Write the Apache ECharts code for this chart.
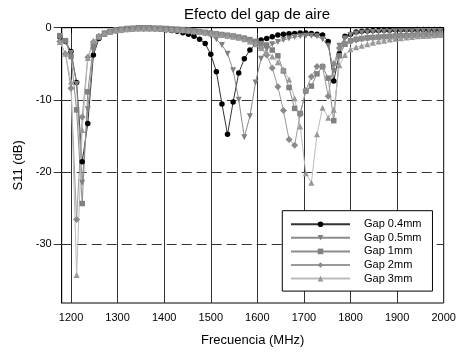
<!DOCTYPE html>
<html>
<head>
<meta charset="utf-8">
<script src="https://cdn.jsdelivr.net/npm/echarts@6/dist/echarts.min.js"></script>
<style>
  html, body { margin: 0; padding: 0; background: #fff; }
  #chart { width: 470px; height: 353px; }
</style>
</head>
<body>
<div id="chart"></div>
<script>
// frequency points (MHz)
const freq = [
  1176, 1188, 1200, 1212, 1224, 1236, 1248, 1260, 1272, 1284,
  1296, 1308, 1320, 1332, 1344, 1356, 1368, 1380, 1392, 1404,
  1416, 1428, 1440, 1452, 1464, 1476, 1488, 1500, 1512, 1524,
  1536, 1548, 1560, 1572, 1584, 1596, 1608, 1620, 1632, 1644,
  1656, 1668, 1680, 1692, 1704, 1716, 1728, 1740, 1752, 1764,
  1776, 1788, 1800, 1812, 1824, 1836, 1848, 1860, 1872, 1884,
  1896, 1908, 1920, 1932, 1944, 1956, 1968, 1980, 1992
]

// S11 (dB) per gap
const gap04 = [
  -1.3, -1.9, -3.3, -7.6, -18.6, -13.3, -3.8, -1.5, -0.9, -0.6,
  -0.4, -0.3, -0.2, -0.15, -0.1, -0.1, -0.1, -0.15, -0.2, -0.3,
  -0.4, -0.5, -0.7, -0.9, -1.2, -1.6, -2.2, -3.7, -6.1, -10.6,
  -14.8, -10.3, -6.3, -4.3, -3.1, -2.3, -1.7, -1.5, -1.25, -1.0,
  -0.9, -0.85, -0.8, -0.75, -0.75, -0.8, -0.9, -1.0, -1.9, -7.4,
  -3.6, -1.2, -0.9, -0.6, -0.5, -0.45, -0.4, -0.4, -0.35, -0.35,
  -0.3, -0.3, -0.3, -0.3, -0.25, -0.25, -0.25, -0.25, -0.25
]
const gap05 = [
  -1.4, -2.0, -3.5, -7.8, -21.5, -11.3, -3.2, -1.4, -0.8, -0.55,
  -0.35, -0.25, -0.15, -0.1, -0.05, -0.05, -0.05, -0.1, -0.1, -0.15,
  -0.2, -0.25, -0.3, -0.4, -0.5, -0.6, -0.8, -1.1, -1.6, -2.4,
  -3.6, -5.9, -10.0, -15.2, -12.3, -7.6, -4.3, -3.0, -2.3, -2.0,
  -1.7, -1.5, -1.3, -1.2, -1.1, -1.1, -1.2, -1.6, -2.5, -6.0,
  -2.5, -1.5, -1.0, -0.8, -0.7, -0.65, -0.6, -0.6, -0.55, -0.55,
  -0.5, -0.5, -0.5, -0.5, -0.45, -0.45, -0.45, -0.45, -0.45
]
const gap1 = [
  -1.1, -1.8, -4.0, -11.4, -24.4, -8.9, -2.5, -1.3, -0.8, -0.55,
  -0.4, -0.3, -0.2, -0.15, -0.1, -0.1, -0.1, -0.1, -0.15, -0.2,
  -0.25, -0.3, -0.35, -0.4, -0.5, -0.55, -0.65, -0.75, -0.85, -0.95,
  -1.05, -1.15, -1.3, -1.45, -1.65, -1.9, -2.2, -2.4, -3.1, -3.9,
  -6.0, -8.3, -11.2, -11.9, -8.8, -8.1, -6.4, -5.4, -7.0, -12.9,
  -3.9, -2.3, -1.8, -1.6, -1.5, -1.4, -1.35, -1.3, -1.25, -1.2,
  -1.15, -1.1, -1.1, -1.05, -1.0, -1.0, -0.95, -0.95, -0.9
]
const gap2 = [
  -1.9, -3.6, -8.4, -26.6, -12.4, -4.1, -2.0, -1.2, -0.8, -0.55,
  -0.4, -0.3, -0.2, -0.15, -0.1, -0.1, -0.1, -0.1, -0.15, -0.2,
  -0.25, -0.3, -0.35, -0.45, -0.55, -0.6, -0.7, -0.8, -0.9, -1.0,
  -1.1, -1.2, -1.35, -1.5, -1.8, -2.2, -2.8, -3.8, -5.6, -8.2,
  -11.5, -15.5, -16.3, -12.0, -8.7, -6.8, -5.4, -5.4, -9.5, -5.0,
  -2.8, -2.2, -1.9, -1.7, -1.55, -1.45, -1.4, -1.35, -1.3, -1.25,
  -1.2, -1.15, -1.15, -1.1, -1.05, -1.05, -1.0, -1.0, -0.95
]
const gap3 = [
  -2.0, -3.6, -7.5, -34.3, -14.2, -4.2, -1.8, -1.2, -0.8, -0.55,
  -0.4, -0.3, -0.2, -0.15, -0.1, -0.1, -0.1, -0.1, -0.15, -0.2,
  -0.25, -0.3, -0.35, -0.4, -0.5, -0.6, -0.7, -0.8, -0.9, -1.0,
  -1.1, -1.25, -1.4, -1.6, -1.9, -2.3, -2.8, -3.4, -4.0, -4.8,
  -5.8, -7.2, -9.8, -13.7, -20.2, -21.5, -14.8, -11.1, -12.5, -11.4,
  -5.2, -3.8, -3.0, -2.7, -2.5, -2.3, -2.1, -1.9, -1.8, -1.65,
  -1.55, -1.45, -1.35, -1.3, -1.2, -1.15, -1.1, -1.05, -1.0
]

// axis ticks
const xTicks = [1200, 1300, 1400, 1500, 1600, 1700, 1800, 1900, 2000]
const yTicks = [-30, -20, -10, 0]

const seriesNames = ['Gap 0.4mm', 'Gap 0.5mm', 'Gap 1mm', 'Gap 2mm', 'Gap 3mm']
const FONT = 'Liberation Sans, Arial, sans-serif'

function toPairs(values) {
  return freq.map((f, i) => [f, values[i]])
}

function makeSeries(name, values, symbol, color, lineColor, size, rotate) {
  return {
    name,
    type: 'line',
    data: toPairs(values),
    symbol,
    symbolSize: size,
    symbolRotate: rotate || 0,
    clip: false,
    itemStyle: { color, borderWidth: 0 },
    lineStyle: { color: lineColor, width: 1 },
    emphasis: { disabled: true },
    animation: false,
  }
}

const chart = echarts.init(document.getElementById('chart'))

chart.setOption({
  backgroundColor: '#fff',
  animation: false,
  title: {
    text: 'Efecto del gap de aire',
    left: 252,
    textAlign: 'center',
    top: 2,
    textStyle: { fontFamily: FONT, fontSize: 15, fontWeight: 'normal', color: '#000' },
  },
  grid: {
    left: 61.7, right: 26.3, top: 27.7, bottom: 50,
    show: true, borderColor: '#000', borderWidth: 1, backgroundColor: 'transparent',
  },
  legend: {
    orient: 'vertical',
    left: 282.3,
    top: 210.7,
    data: seriesNames,
    itemWidth: 59,
    itemHeight: 7,
    itemGap: 0.6,
    padding: [7, 11, 6, 7.7],
    backgroundColor: '#fff',
    borderColor: '#000',
    borderWidth: 1,
    borderRadius: 0,
    textStyle: { fontFamily: FONT, fontSize: 11, color: '#000', lineHeight: 13, padding: [0, 0, 0, 9] },
  },
  xAxis: {
    type: 'value',
    min: 1180,
    max: 2000,
    splitNumber: 8,
    name: 'Frecuencia (MHz)',
    nameLocation: 'middle',
    nameGap: 31,
    nameTextStyle: { fontFamily: FONT, fontSize: 13, color: '#000' },
    axisLine: { lineStyle: { color: '#000', width: 1 } },
    axisTick: { show: true, length: 5, customValues: xTicks, lineStyle: { color: '#000' } },
    axisLabel: {
      margin: 9,
      customValues: xTicks,
      fontFamily: FONT, fontSize: 11, color: '#000',
      formatter: v => (v % 100 === 0 ? String(v) : ''),
    },
    splitLine: { show: true, lineStyle: { color: '#333', width: 1, type: 'solid' } },
  },
  yAxis: {
    type: 'value',
    min: -38.2,
    max: 0,
    splitNumber: 4,
    name: 'S11 (dB)',
    nameLocation: 'middle',
    nameGap: 37,
    nameTextStyle: { fontFamily: FONT, fontSize: 13, color: '#000' },
    axisLine: { lineStyle: { color: '#000', width: 1 } },
    axisTick: { show: true, length: 8, customValues: yTicks, lineStyle: { color: '#333' } },
    axisLabel: {
      margin: 10,
      customValues: yTicks,
      fontFamily: FONT, fontSize: 11, color: '#000',
      formatter: v => (Math.abs(v % 10) < 1e-6 ? String(Math.round(v)) : ''),
    },
    splitLine: { show: true, lineStyle: { color: '#333', width: 1, type: [10, 5] } },
  },
  series: [
    makeSeries(seriesNames[0], gap04, 'circle', '#000', '#333', 5.5),
    makeSeries(seriesNames[1], gap05, 'triangle', '#808080', '#8c8c8c', 6, 180),
    makeSeries(seriesNames[2], gap1, 'rect', '#808080', '#8c8c8c', 5.5),
    makeSeries(seriesNames[3], gap2, 'diamond', '#8a8a8a', '#9a9a9a', 7),
    makeSeries(seriesNames[4], gap3, 'triangle', '#999', '#bbb', 6),
  ],
})
</script>
</body>
</html>
